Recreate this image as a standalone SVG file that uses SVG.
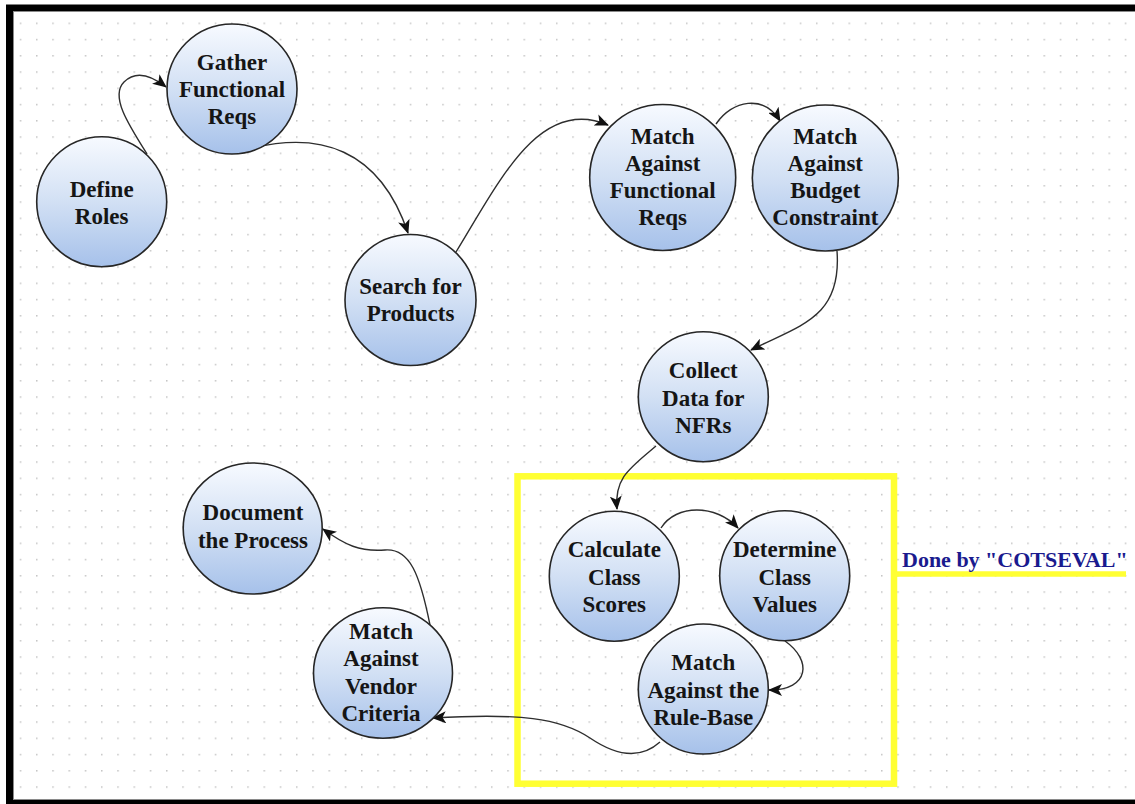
<svg xmlns="http://www.w3.org/2000/svg" width="1135" height="804" viewBox="0 0 1135 804">
  <defs>
    <pattern id="dots" x="19.75" y="22.55" width="16.25" height="16.25" patternUnits="userSpaceOnUse">
      <rect x="0" y="0" width="1.5" height="1.5" fill="#c4c4c4"/>
    </pattern>
    <linearGradient id="nodeFill" x1="0" y1="0" x2="0" y2="1">
      <stop offset="0" stop-color="#f7faff"/>
      <stop offset="0.5" stop-color="#d2e0f4"/>
      <stop offset="1" stop-color="#a6c1ea"/>
    </linearGradient>
    <marker id="arrow" viewBox="0 0 14 12" refX="13" refY="6" markerWidth="14" markerHeight="12" markerUnits="userSpaceOnUse" orient="auto">
      <path d="M0,0 L14,6 L0,12 L3.5,6 z" fill="#111"/>
    </marker>
    <style>
      .node { fill: url(#nodeFill); stroke: #262626; stroke-width: 1.6; }
      .label { font-family: "Liberation Serif", "Times New Roman", serif; font-weight: bold; font-size: 23px; fill: #151515; text-anchor: middle; }
      .edge { fill: none; stroke: #2e2e2e; stroke-width: 1.4; marker-end: url(#arrow); }
      .group-box { fill: none; stroke: #ffff33; stroke-width: 6.5; }
      .note { font-family: "Liberation Serif", "Times New Roman", serif; font-weight: bold; font-size: 22px; fill: #1a1a8e; }
    </style>
  </defs>

  <!-- canvas, frame and dot grid -->
  <rect x="0" y="0" width="1135" height="804" fill="#ffffff"/>
  <rect x="13" y="12" width="1122" height="788" fill="url(#dots)"/>
  <rect x="9.5" y="8" width="1140" height="795.5" fill="none" stroke="#000" stroke-width="7"/>
  <rect x="13.5" y="11.5" width="1130" height="788" fill="none" stroke="#8a8a8a" stroke-width="1"/>

  <!-- COTSEVAL grouping box and callout -->
  <g id="cotseval-group">
    <rect class="group-box" x="517.5" y="476.3" width="376.5" height="307.4"/>
    <line x1="894" y1="574" x2="1126" y2="574" stroke="#ffff33" stroke-width="5.5"/>
    <text class="note" x="902" y="567">Done by "COTSEVAL"</text>
  </g>

  <!-- connectors -->
  <g id="connectors">
    <path class="edge" d="M147,154 C128,124 110,96 124,82 C136,70 152,76 166,87"/>
    <path class="edge" d="M242,151 C320,128 380,150 408,233"/>
    <path class="edge" d="M456,252 C500,180 540,96 608,125"/>
    <path class="edge" d="M716,124 C732,100 764,94 780,121"/>
    <path class="edge" d="M837,251 C842,318 800,325 751,350"/>
    <path class="edge" d="M656,446 C630,468 614,478 617,509"/>
    <path class="edge" d="M661,528 C676,504 716,504 738,528"/>
    <path class="edge" d="M785,641 C812,660 810,690 769,690"/>
    <path class="edge" d="M660,742 C640,760 615,755 590,738 C560,718 520,713 433,718"/>
    <path class="edge" d="M430,625 C420,575 410,548 385,550 C360,552 345,545 323,529"/>
  </g>

  <!-- nodes -->
  <g id="define-roles">
    <circle class="node" cx="101.7" cy="201.7" r="65"/>
    <text class="label" x="101.7" y="197">Define</text>
    <text class="label" x="101.7" y="224">Roles</text>
  </g>
  <g id="gather-functional-reqs">
    <circle class="node" cx="232" cy="89" r="65"/>
    <text class="label" x="232" y="70">Gather</text>
    <text class="label" x="232" y="97">Functional</text>
    <text class="label" x="232" y="124">Reqs</text>
  </g>
  <g id="search-for-products">
    <circle class="node" cx="410.5" cy="300" r="65.5"/>
    <text class="label" x="410.5" y="293.5">Search for</text>
    <text class="label" x="410.5" y="320.5">Products</text>
  </g>
  <g id="match-functional-reqs">
    <circle class="node" cx="662.7" cy="177.5" r="73"/>
    <text class="label" x="662.7" y="143.5">Match</text>
    <text class="label" x="662.7" y="170.5">Against</text>
    <text class="label" x="662.7" y="197.5">Functional</text>
    <text class="label" x="662.7" y="224.5">Reqs</text>
  </g>
  <g id="match-budget-constraint">
    <circle class="node" cx="825.3" cy="178" r="73"/>
    <text class="label" x="825.3" y="143.5">Match</text>
    <text class="label" x="825.3" y="170.5">Against</text>
    <text class="label" x="825.3" y="197.5">Budget</text>
    <text class="label" x="825.3" y="224.5">Constraint</text>
  </g>
  <g id="collect-data-nfrs">
    <circle class="node" cx="703.3" cy="396.7" r="65"/>
    <text class="label" x="703.3" y="378">Collect</text>
    <text class="label" x="703.3" y="405.5">Data for</text>
    <text class="label" x="703.3" y="433">NFRs</text>
  </g>
  <g id="calculate-class-scores">
    <circle class="node" cx="614.3" cy="576.2" r="65"/>
    <text class="label" x="614.3" y="557">Calculate</text>
    <text class="label" x="614.3" y="584.5">Class</text>
    <text class="label" x="614.3" y="612">Scores</text>
  </g>
  <g id="determine-class-values">
    <circle class="node" cx="784.7" cy="575.7" r="65"/>
    <text class="label" x="784.7" y="557">Determine</text>
    <text class="label" x="784.7" y="584.5">Class</text>
    <text class="label" x="784.7" y="612">Values</text>
  </g>
  <g id="match-rule-base">
    <circle class="node" cx="703.3" cy="689" r="65"/>
    <text class="label" x="703.3" y="670">Match</text>
    <text class="label" x="703.3" y="697.5">Against the</text>
    <text class="label" x="703.3" y="725">Rule-Base</text>
  </g>
  <g id="match-vendor-criteria">
    <ellipse class="node" cx="383" cy="673" rx="69.5" ry="65.3"/>
    <text class="label" x="381" y="638.5">Match</text>
    <text class="label" x="381" y="666">Against</text>
    <text class="label" x="381" y="693.5">Vendor</text>
    <text class="label" x="381" y="721">Criteria</text>
  </g>
  <g id="document-process">
    <ellipse class="node" cx="252.7" cy="528.5" rx="69.5" ry="65.5"/>
    <text class="label" x="253" y="520">Document</text>
    <text class="label" x="253" y="548">the Process</text>
  </g>
</svg>
